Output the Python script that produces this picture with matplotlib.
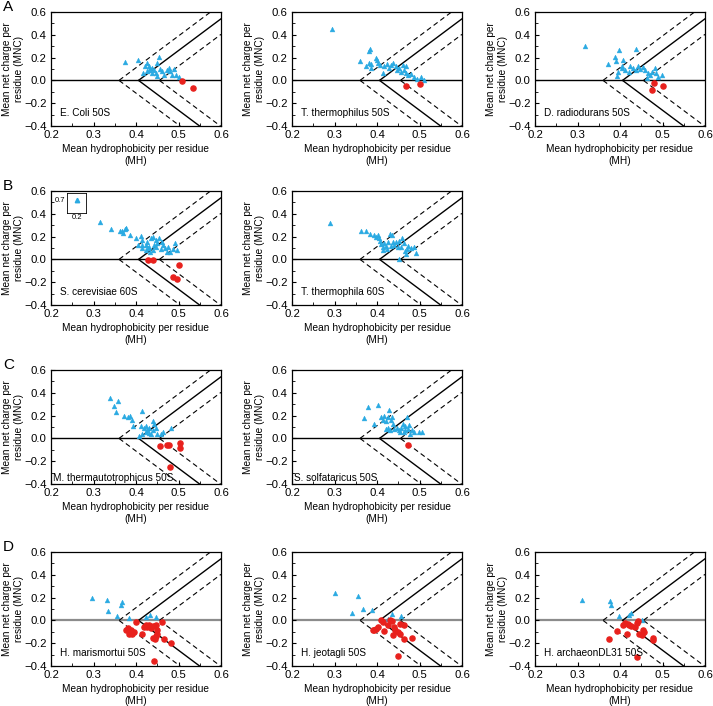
import matplotlib
matplotlib.use("Agg")
import matplotlib.pyplot as plt
from matplotlib.ticker import MultipleLocator, FuncFormatter
import numpy as np

plt.rcParams['font.family'] = ['Liberation Sans', 'DejaVu Sans']

# ---------------- data ----------------
ecoli_blue_x = [0.373, 0.404, 0.420, 0.426, 0.431, 0.455, 0.449, 0.438, 0.430, 0.416, 0.426, 0.434,
                0.438, 0.443, 0.448, 0.456, 0.461, 0.467, 0.473, 0.477, 0.481, 0.489, 0.485, 0.493, 0.500, 0.449]
ecoli_blue_y = [0.163, 0.180, 0.128, 0.151, 0.122, 0.204, 0.150, 0.107, 0.087, 0.063, 0.081, 0.093,
                0.069, 0.087, 0.063, 0.099, 0.084, 0.049, 0.093, 0.107, 0.084, 0.100, 0.049, 0.049, 0.034, 0.040]
ecoli_red_x = [0.508, 0.533]
ecoli_red_y = [-0.004, -0.063]

tth_blue_x = [0.294, 0.360, 0.381, 0.384, 0.373, 0.380, 0.385, 0.387, 0.397, 0.401, 0.402, 0.407, 0.413,
              0.417, 0.424, 0.428, 0.432, 0.438, 0.444, 0.446, 0.452, 0.456, 0.460, 0.464, 0.468, 0.472,
              0.480, 0.487, 0.494, 0.503, 0.511, 0.468]
tth_blue_y = [0.450, 0.172, 0.254, 0.277, 0.128, 0.157, 0.145, 0.113, 0.200, 0.181, 0.157, 0.137, 0.069,
              0.122, 0.145, 0.107, 0.137, 0.157, 0.122, 0.093, 0.107, 0.078, 0.137, 0.093, 0.069, 0.049,
              0.057, 0.028, 0.010, 0.034, 0.005, 0.122]
tth_red_x = [0.469, 0.500]
tth_red_y = [-0.050, -0.030]

dra_blue_x = [0.318, 0.372, 0.388, 0.390, 0.398, 0.395, 0.404, 0.392, 0.408, 0.404, 0.412, 0.420, 0.437,
              0.424, 0.431, 0.438, 0.443, 0.447, 0.453, 0.459, 0.463, 0.471, 0.475, 0.482, 0.485, 0.490,
              0.498, 0.467]
dra_blue_y = [0.298, 0.145, 0.204, 0.166, 0.263, 0.078, 0.107, 0.040, 0.181, 0.122, 0.093, 0.078, 0.275,
              0.128, 0.107, 0.087, 0.128, 0.099, 0.116, 0.087, 0.019, 0.049, 0.078, 0.107, 0.069, 0.028,
              0.049, 0.069]
dra_red_x = [0.479, 0.476, 0.500]
dra_red_y = [-0.020, -0.083, -0.048]

sce_blue_x = [0.315, 0.342, 0.362, 0.368, 0.374, 0.377, 0.370, 0.385, 0.400, 0.412, 0.414, 0.415, 0.423,
              0.427, 0.431, 0.435, 0.439, 0.443, 0.447, 0.448, 0.453, 0.450, 0.458, 0.439, 0.432, 0.429,
              0.464, 0.468, 0.472, 0.476, 0.481, 0.488, 0.492, 0.496, 0.424, 0.460, 0.404, 0.415]
sce_blue_y = [0.330, 0.270, 0.245, 0.250, 0.265, 0.272, 0.228, 0.210, 0.190, 0.205, 0.170, 0.130, 0.126,
              0.155, 0.111, 0.184, 0.199, 0.126, 0.170, 0.111, 0.184, 0.140, 0.091, 0.082, 0.067, 0.102,
              0.126, 0.096, 0.067, 0.111, 0.061, 0.091, 0.140, 0.082, 0.082, 0.155, 0.130, 0.096]
sce_red_x = [0.428, 0.440, 0.500, 0.488, 0.496]
sce_red_y = [-0.005, -0.005, -0.050, -0.155, -0.170]
sce_inset_x = [0.2]
sce_inset_y = [0.7]

tte_blue_x = [0.289, 0.363, 0.373, 0.383, 0.394, 0.398, 0.403, 0.405, 0.408, 0.410, 0.414, 0.414, 0.417,
              0.421, 0.427, 0.431, 0.435, 0.437, 0.439, 0.445, 0.449, 0.452, 0.456, 0.459, 0.464, 0.466,
              0.468, 0.470, 0.473, 0.480, 0.486, 0.491, 0.452, 0.424, 0.433]
tte_blue_y = [0.322, 0.246, 0.246, 0.225, 0.216, 0.196, 0.216, 0.184, 0.161, 0.132, 0.111, 0.082, 0.140,
              0.120, 0.155, 0.225, 0.210, 0.155, 0.126, 0.149, 0.111, 0.161, 0.111, 0.190, 0.146, 0.073,
              0.044, 0.091, 0.120, 0.096, 0.111, 0.053, 0.003, 0.091, 0.120]

mth_blue_x = [0.338, 0.358, 0.349, 0.354, 0.372, 0.380, 0.386, 0.390, 0.392, 0.414, 0.411, 0.419, 0.423,
              0.427, 0.431, 0.435, 0.441, 0.443, 0.447, 0.439, 0.449, 0.459, 0.463, 0.483, 0.423, 0.431,
              0.414, 0.408]
mth_blue_y = [0.354, 0.330, 0.287, 0.232, 0.200, 0.186, 0.194, 0.165, 0.113, 0.238, 0.107, 0.087, 0.107,
              0.070, 0.093, 0.041, 0.151, 0.122, 0.087, 0.078, 0.035, 0.041, 0.058, 0.087, 0.058, 0.049,
              0.035, 0.020]
mth_red_x = [0.457, 0.473, 0.477, 0.503, 0.503, 0.481]
mth_red_y = [-0.065, -0.055, -0.060, -0.040, -0.080, -0.255]

sso_blue_x = [0.378, 0.403, 0.370, 0.393, 0.409, 0.413, 0.417, 0.421, 0.425, 0.429, 0.432, 0.436, 0.438,
              0.426, 0.431, 0.421, 0.440, 0.446, 0.452, 0.456, 0.460, 0.464, 0.467, 0.471, 0.473, 0.475,
              0.478, 0.483, 0.487, 0.499, 0.505, 0.467, 0.454]
sso_blue_y = [0.279, 0.289, 0.177, 0.125, 0.192, 0.163, 0.200, 0.149, 0.186, 0.251, 0.163, 0.186, 0.122,
              0.087, 0.070, 0.079, 0.079, 0.093, 0.070, 0.087, 0.122, 0.052, 0.108, 0.192, 0.079, 0.117,
              0.037, 0.070, 0.058, 0.052, 0.058, 0.070, 0.052]
sso_red_x = [0.473]
sso_red_y = [-0.055]

hma_blue_x = [0.297, 0.332, 0.335, 0.368, 0.365, 0.356, 0.383, 0.423, 0.433, 0.446]
hma_blue_y = [0.199, 0.176, 0.079, 0.161, 0.132, 0.035, 0.020, 0.029, 0.044, 0.029]
hma_red_x = [0.399, 0.376, 0.382, 0.388, 0.384, 0.390, 0.395, 0.413, 0.423, 0.427, 0.431, 0.435, 0.439,
             0.441, 0.446, 0.450, 0.448, 0.462, 0.450, 0.444, 0.466, 0.483, 0.443, 0.419]
hma_red_y = [-0.015, -0.082, -0.064, -0.088, -0.117, -0.123, -0.102, -0.117, -0.038, -0.058, -0.044, -0.064,
             -0.053, -0.152, -0.140, -0.082, -0.044, -0.015, -0.117, -0.161, -0.160, -0.198, -0.357, -0.058]

hje_blue_x = [0.301, 0.355, 0.367, 0.340, 0.388, 0.425, 0.435, 0.456]
hje_blue_y = [0.243, 0.211, 0.102, 0.064, 0.088, 0.015, 0.058, 0.035]
hje_red_x = [0.410, 0.414, 0.431, 0.435, 0.390, 0.398, 0.402, 0.417, 0.425, 0.437, 0.441, 0.443, 0.449,
             0.453, 0.455, 0.464, 0.464, 0.483, 0.450, 0.394]
hje_red_y = [0.000, -0.015, 0.000, -0.005, -0.082, -0.073, -0.058, -0.094, -0.044, -0.131, -0.058, -0.088,
             -0.102, -0.117, -0.029, -0.038, -0.161, -0.152, -0.315, -0.082]

har_blue_x = [0.310, 0.376, 0.378, 0.398, 0.420, 0.427, 0.451]
har_blue_y = [0.175, 0.170, 0.132, 0.035, 0.044, 0.064, 0.006]
har_red_x = [0.412, 0.418, 0.422, 0.427, 0.435, 0.439, 0.443, 0.445, 0.451, 0.455, 0.457, 0.478, 0.478,
             0.392, 0.373, 0.416, 0.441, 0.408]
har_red_y = [-0.023, -0.035, -0.044, -0.053, -0.058, -0.023, -0.006, -0.123, -0.132, -0.088, -0.102, -0.152,
             -0.175, -0.094, -0.161, -0.117, -0.322, -0.044]

panels = [
    (0, 0, "E. Coli 50S", ecoli_blue_x, ecoli_blue_y, ecoli_red_x, ecoli_red_y),
    (0, 1, "T. thermophilus 50S", tth_blue_x, tth_blue_y, tth_red_x, tth_red_y),
    (0, 2, "D. radiodurans 50S", dra_blue_x, dra_blue_y, dra_red_x, dra_red_y),
    (1, 0, "S. cerevisiae 60S", sce_blue_x, sce_blue_y, sce_red_x, sce_red_y),
    (1, 1, "T. thermophila 60S", tte_blue_x, tte_blue_y, [], []),
    (2, 0, "M. thermautotrophicus 50S", mth_blue_x, mth_blue_y, mth_red_x, mth_red_y),
    (2, 1, "S. solfataricus 50S", sso_blue_x, sso_blue_y, sso_red_x, sso_red_y),
    (3, 0, "H. marismortui 50S", hma_blue_x, hma_blue_y, hma_red_x, hma_red_y),
    (3, 1, "H. jeotagli 50S", hje_blue_x, hje_blue_y, hje_red_x, hje_red_y),
    (3, 2, "H. archaeonDL31 50S", har_blue_x, har_blue_y, har_red_x, har_red_y),
]
row_letters = ["A", "B", "C", "D"]

# boundary (charge-hydropathy) parameters
SLOPE = 2.785
VERTEX = 0.406
DASH_LEFT = 0.360
DASH_RIGHT = 0.455

# ---------------- layout ----------------
W, H = 713, 706
fig = plt.figure(figsize=(W / 100, H / 100), dpi=100)
col_left = [51, 292, 535]
row_top = [12, 191, 370, 552]
ax_w, ax_h = 170, 114

BLUE = "#2aaae2"
RED = "#e8211d"

for (r, c, name, bx, by, rx, ry) in panels:
    l = col_left[c] / W
    b = 1 - (row_top[r] + ax_h) / H
    ax = fig.add_axes([l, b, ax_w / W, ax_h / H])
    ax.set_xlim(0.2, 0.6)
    ax.set_ylim(-0.4, 0.6)
    xs = np.linspace(0.2, 0.6, 400)
    hcol = "#8c8c8c" if r == 3 else "black"
    hlw = 1.6 if r == 3 else 1.0
    ax.axhline(0, color=hcol, lw=hlw, zorder=1)
    for v, ls, lw in [(VERTEX, '-', 1.0), (DASH_LEFT, (0, (4.5, 3)), 0.8), (DASH_RIGHT, (0, (4.5, 3)), 0.8)]:
        xx = xs[xs >= v]
        ax.plot(xx, SLOPE * (xx - v), color='black', ls=ls, lw=lw, zorder=1)
        ax.plot(xx, -SLOPE * (xx - v), color='black', ls=ls, lw=lw, zorder=1)
    ax.plot(bx, by, ls='none', marker='^', ms=3.5, color=BLUE, mec=BLUE, mew=0.3, zorder=3)
    if len(rx):
        ax.plot(rx, ry, ls='none', marker='o', ms=3.7, color=RED, mec=RED, zorder=4)
    ax.text(0.222 if r != 2 else 0.205, -0.29 if r != 2 else -0.35, name, fontsize=7.2,
            ha='left', va='center', zorder=5)
    ax.xaxis.set_major_locator(MultipleLocator(0.1))
    ax.xaxis.set_minor_locator(MultipleLocator(0.05))
    ax.yaxis.set_major_locator(MultipleLocator(0.2))
    ax.yaxis.set_minor_locator(MultipleLocator(0.1))
    ax.tick_params(which='both', direction='in', top=False, right=False, labelsize=8.2, pad=3)
    ax.tick_params(which='major', length=3, width=0.8)
    ax.tick_params(which='minor', length=2, width=0.6)
    ax.xaxis.set_major_formatter(FuncFormatter(lambda v, p: f"{v:.1f}"))
    ax.yaxis.set_major_formatter(FuncFormatter(
        lambda v, p: ("\u2212" if v < -1e-9 else "") + f"{abs(v):.1f}"))
    for s in ax.spines.values():
        s.set_linewidth(0.9)
    ax.set_xlabel("Mean hydrophobicity per residue\n(MH)", fontsize=7.3, labelpad=3, linespacing=1.15)
    ax.set_ylabel("Mean net charge per\nresidue (MNC)", fontsize=7.3, labelpad=0.5, linespacing=1.15)

    if c == 0:
        fig.text(3 / W, 1 - (row_top[r] - 12) / H, row_letters[r], fontsize=11,
                 ha='left', va='top')

    if name.startswith("S. cerevisiae"):
        iax = fig.add_axes([(col_left[c] + 16) / W, 1 - 213 / H, 19 / W, 20 / H])
        iax.set_xlim(0.15, 0.25)
        iax.set_ylim(0.6, 0.75)
        iax.plot(sce_inset_x, sce_inset_y, ls='none', marker='^', ms=3.2, color=BLUE, mec=BLUE)
        iax.set_xticks([0.2])
        iax.set_yticks([0.7])
        iax.set_xticklabels(["0.2"])
        iax.set_yticklabels(["0.7"])
        iax.tick_params(labelsize=5.5, length=0, pad=1)
        for s in iax.spines.values():
            s.set_linewidth(0.6)

fig.savefig("out.png", dpi=100)
